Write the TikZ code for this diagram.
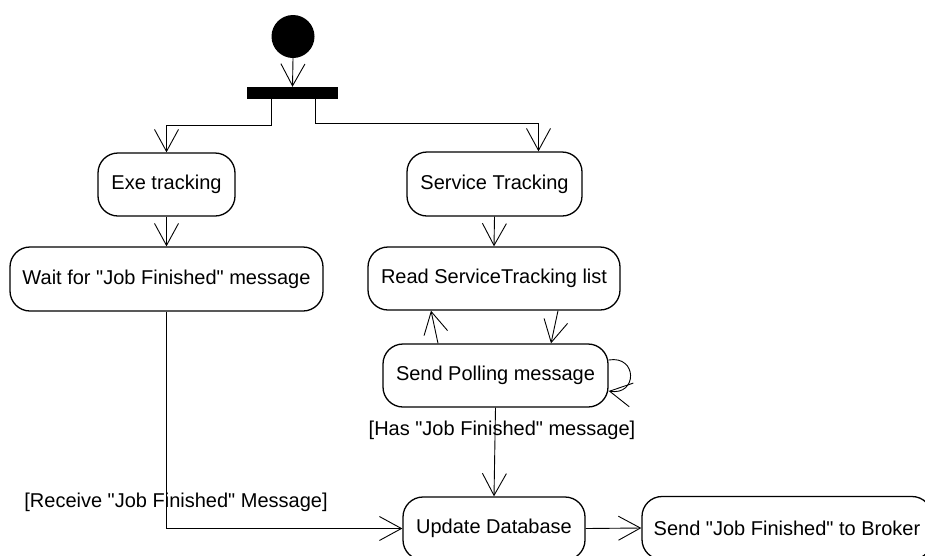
\documentclass[tikz,border=0pt]{standalone}
\usepackage{fontspec}
\setmainfont{Liberation Sans}[Ligatures=TeXOff]
\usetikzlibrary{arrows.meta,calc}
\begin{document}
\begin{tikzpicture}[x=1pt,y=-1pt,
  act/.style={draw,line width=1.3pt,rounded corners=20pt,inner sep=0pt,font=\fontsize{20}{24}\selectfont},
  arr/.style={line width=0.9pt,-{Straight Barb[length=22pt,width=24pt]}},
  guard/.style={font=\fontsize{20}{24}\selectfont,inner sep=0pt}]
\useasboundingbox (0,0) rectangle (925,555);
\clip (0,0) rectangle (925,555);
\node[circle,fill=black,minimum size=43pt,inner sep=0pt] (start) at (293,36.5) {};
\node[fill=black,minimum width=91pt,minimum height=12pt,inner sep=0pt] (bar) at (292.5,93) {};
\node[act,minimum width=137pt,minimum height=63pt] (exe) at (166.5,184.5) {Exe tracking};
\node[act,minimum width=313pt,minimum height=64pt] (wait) at (166.5,279) {Wait for "Job Finished" message};
\node[act,minimum width=175pt,minimum height=64pt] (svc) at (494.5,184) {Service Tracking};
\node[act,minimum width=252pt,minimum height=63pt] (read) at (494,278.5) {Read ServiceTracking list};
\node[act,minimum width=225pt,minimum height=63pt] (poll) at (495.5,375.5) {Send Polling message};
\node[act,minimum width=182pt,minimum height=63pt] (upd) at (494,528.5) {Update Database};
\node[act,minimum width=290pt,minimum height=63pt] (send) at (787,528) {Send "Job Finished" to Broker};
\node[guard] (g1) at (502,430) {[Has "Job Finished" message]};
\node[guard] (g2) at (176,502) {[Receive "Job Finished" Message]};

\draw[arr] (start.south) -- (bar.north);
\draw[arr] ([xshift=-21.5pt]bar.south) -- ++(0,26) -| (exe.north);
\draw[arr] ([xshift=22.5pt]bar.south) -- ++(0,24) -| ([xshift=44pt]svc.north);
\draw[arr] (exe.south) -- (wait.north);
\draw[arr] (svc.south) -- (read.north);
\draw[arr] ([xshift=-57.5pt]poll.north) -- ([xshift=-63pt]read.south);
\draw[arr] ([xshift=64pt]read.south) -- ([xshift=55.5pt]poll.north);
\draw[arr] ([yshift=15.5pt]poll.east) .. controls +(29,-5) and +(29,5) .. ([yshift=-15.5pt]poll.east);
\draw[arr] (poll.south) -- (upd.north);
\draw[arr] (wait.south) |- (upd.west);
\draw[arr] (upd.east) -- (send.west);
\end{tikzpicture}
\end{document}
